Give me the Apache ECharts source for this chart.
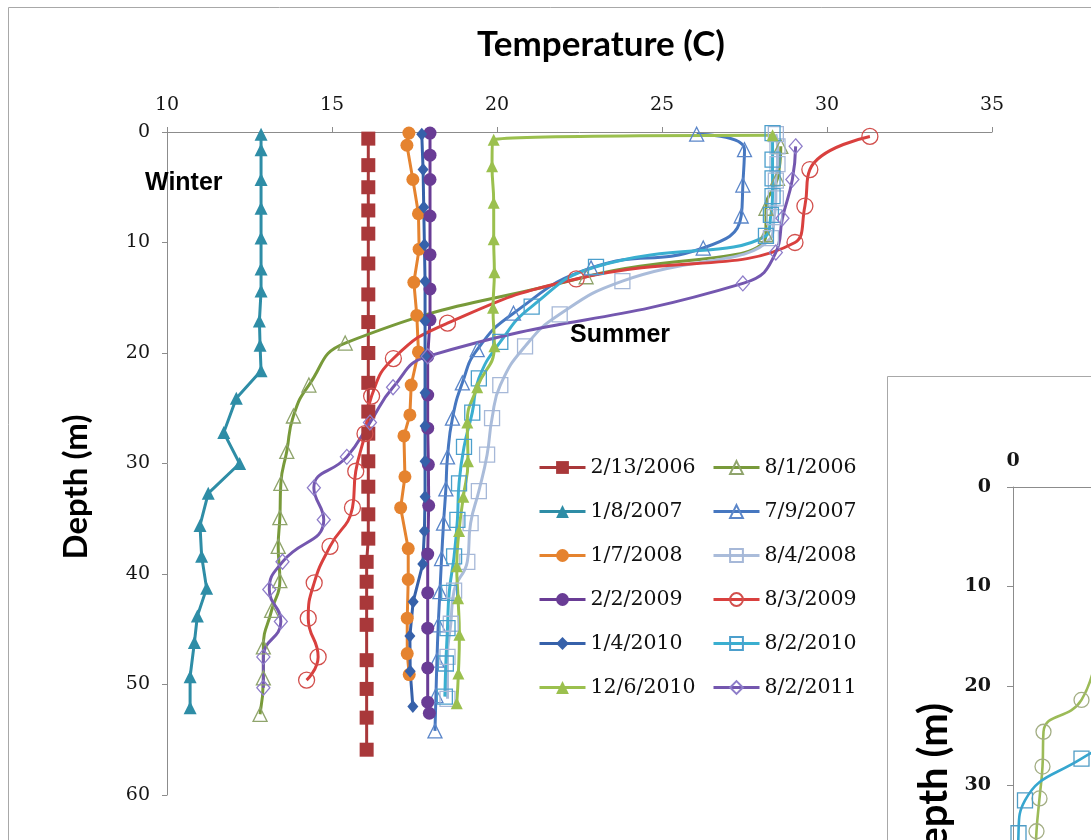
<!DOCTYPE html>
<html>
<head>
<meta charset="utf-8">
<script src="https://cdn.jsdelivr.net/npm/echarts@6/dist/echarts.min.js"></script>
<style>
  html, body { margin: 0; padding: 0; background: #fff; }
  #chart { width: 1091px; height: 840px; }
</style>
</head>
<body>
<div id="chart"></div>
<script>
// ---- Temperature profiles: temperature (C) at each depth (m) ----
const winterDates = ['2/13/2006', '1/8/2007', '1/7/2008', '2/2/2009', '1/4/2010', '12/6/2010'];
const summerDates = ['8/1/2006', '7/9/2007', '8/4/2008', '8/3/2009', '8/2/2010', '8/2/2011'];

const depth_2006_02_13 = [0.6, 3.0, 5.0, 7.1, 9.2, 11.9, 14.7, 17.2, 20.0, 22.7, 25.3, 27.3, 29.8, 32.1, 34.6, 36.8, 38.9, 40.7, 42.6, 44.6, 47.8, 50.4, 53.0, 55.9];
const temp_2006_02_13  = [16.1, 16.1, 16.1, 16.1, 16.1, 16.1, 16.1, 16.1, 16.1, 16.1, 16.1, 16.1, 16.1, 16.1, 16.1, 16.1, 16.05, 16.05, 16.05, 16.05, 16.05, 16.05, 16.05, 16.05];

const depth_2006_08_01 = [1.3, 4.2, 6.9, 9.3, 13.1, 19.1, 22.9, 25.7, 28.9, 31.8, 34.9, 37.5, 40.6, 43.3, 46.6, 49.4, 52.7];
const temp_2006_08_01  = [28.6, 28.5, 28.15, 28.15, 22.7, 15.4, 14.3, 13.83, 13.63, 13.45, 13.42, 13.37, 13.42, 13.17, 12.92, 12.92, 12.82];

const depth_2007_01_08 = [0.2, 1.6, 4.3, 6.9, 9.6, 12.4, 14.4, 17.1, 19.3, 21.6, 24.1, 27.2, 30.0, 32.7, 35.6, 38.4, 41.3, 43.8, 46.2, 49.3, 52.1];
const temp_2007_01_08  = [12.85, 12.85, 12.85, 12.85, 12.85, 12.85, 12.85, 12.8, 12.82, 12.85, 12.1, 11.72, 12.2, 11.25, 11.0, 11.05, 11.2, 10.92, 10.83, 10.7, 10.7];

const depth_2007_07_09 = [0.2, 1.6, 4.8, 7.6, 10.5, 12.3, 16.4, 19.7, 22.7, 25.9, 29.4, 32.3, 35.4, 38.6, 41.6, 44.6, 47.8, 51.0, 54.2];
const temp_2007_07_09  = [26.05, 27.5, 27.45, 27.4, 26.25, 22.85, 20.5, 19.4, 18.95, 18.65, 18.5, 18.45, 18.38, 18.32, 18.27, 18.22, 18.18, 18.15, 18.12];

const depth_2008_01_07 = [0.1, 1.2, 4.3, 7.4, 10.6, 13.6, 16.6, 19.9, 22.9, 25.6, 27.5, 31.2, 34.0, 37.7, 40.5, 44.0, 47.2, 49.1];
const temp_2008_01_07  = [17.33, 17.27, 17.45, 17.62, 17.64, 17.48, 17.57, 17.62, 17.4, 17.36, 17.18, 17.21, 17.08, 17.31, 17.31, 17.28, 17.28, 17.34];

const depth_2008_08_04 = [0.2, 1.3, 2.9, 4.4, 6.0, 7.7, 9.6, 13.5, 16.5, 19.4, 22.9, 25.9, 29.2, 32.5, 35.4, 38.9, 41.5, 44.5, 47.5, 51.3];
const temp_2008_08_04  = [28.45, 28.5, 28.5, 28.45, 28.45, 28.4, 28.3, 23.8, 21.9, 20.85, 20.1, 19.85, 19.7, 19.45, 19.2, 19.1, 18.7, 18.6, 18.5, 18.5];

const depth_2009_02_02 = [0.1, 2.1, 4.3, 7.6, 11.1, 14.2, 17.0, 20.3, 23.8, 26.8, 30.1, 33.8, 38.2, 41.7, 44.9, 48.5, 51.6, 52.6];
const temp_2009_02_02  = [17.97, 17.97, 17.97, 17.97, 17.97, 17.97, 17.97, 17.9, 17.9, 17.9, 17.92, 17.93, 17.9, 17.9, 17.9, 17.9, 17.9, 17.95];

const depth_2009_08_03 = [0.4, 3.4, 6.7, 10.0, 13.3, 17.3, 20.5, 23.9, 27.3, 30.7, 34.0, 37.5, 40.8, 44.0, 47.5, 49.6];
const temp_2009_08_03  = [31.3, 29.48, 29.33, 29.03, 22.4, 18.5, 16.86, 16.2, 16.0, 15.72, 15.62, 14.94, 14.46, 14.28, 14.58, 14.23];

const depth_2010_01_04 = [0.2, 3.4, 6.8, 10.2, 13.5, 17.1, 20.3, 23.6, 26.6, 29.8, 33.0, 36.1, 39.1, 42.5, 45.6, 48.8, 52.0];
const temp_2010_01_04  = [17.72, 17.76, 17.78, 17.8, 17.82, 17.82, 17.82, 17.82, 17.82, 17.82, 17.82, 17.8, 17.75, 17.46, 17.36, 17.37, 17.45];

const depth_2010_08_02 = [0.1, 2.5, 4.2, 5.8, 7.5, 9.4, 12.2, 15.8, 19.0, 22.3, 25.4, 28.5, 31.8, 35.1, 38.4, 41.7, 44.9, 48.1, 51.1];
const temp_2010_08_02  = [28.35, 28.35, 28.35, 28.35, 28.3, 28.15, 23.0, 21.05, 20.1, 19.45, 19.25, 19.0, 18.85, 18.8, 18.7, 18.55, 18.5, 18.45, 18.42];

const depth_2010_12_06 = [0.3, 0.7, 3.1, 6.4, 9.7, 12.7, 15.9, 19.4, 23.1, 26.3, 29.8, 33.0, 36.1, 39.3, 42.2, 45.5, 49.0, 51.7];
const temp_2010_12_06  = [28.35, 19.9, 19.85, 19.9, 19.9, 19.92, 19.88, 19.92, 19.4, 19.1, 19.12, 18.98, 18.85, 18.78, 18.82, 18.86, 18.83, 18.78];

const depth_2011_08_02 = [1.3, 4.3, 7.8, 10.9, 13.7, 20.3, 23.1, 26.3, 29.4, 32.2, 35.1, 38.9, 41.4, 44.3, 47.5, 50.3];
const temp_2011_08_02  = [29.05, 28.95, 28.65, 28.45, 27.45, 17.9, 16.85, 16.15, 15.45, 14.45, 14.75, 13.5, 13.1, 13.45, 12.92, 12.92];

// ---- Second (partly shown) profile panel ----
const insetCircleDepth = [15.5, 21.4, 24.6, 28.1, 31.3, 34.6, 37.9];
const insetCircleValue = [1.7, 1.37, 0.61, 0.59, 0.53, 0.47, 0.45];
const insetSquareDepth = [24.5, 27.3, 31.5, 34.8, 38.2];
const insetSquareValue = [2.5, 1.37, 0.24, 0.11, 0.1];

const xTicks = { min: 10, max: 35, step: 5 };
const yTicks = { min: 0, max: 60, step: 10 };

// pair temperatures with depths -> [x, y]
function pairs(temps, depths) {
  return temps.map((t, i) => [t, depths[i]]);
}

// build one profile line; open markers are drawn as outlines
function profile(name, temps, depths, st, axisIndex) {
  const open = !!st.open;
  return {
    name: name,
    type: 'line',
    xAxisIndex: axisIndex || 0,
    yAxisIndex: axisIndex || 0,
    data: pairs(temps, depths),
    smooth: st.smooth ? 0.5 : false,
    symbol: st.symbol,
    symbolSize: st.size,
    showAllSymbol: true,
    lineStyle: { color: st.color, width: st.width || 3 },
    itemStyle: open
      ? { color: 'rgba(255,255,255,0)', borderColor: st.marker || st.color, borderWidth: 1.3 }
      : { color: st.color, borderWidth: 0 },
    emphasis: { disabled: true },
    z: 2
  };
}

const styles = {
  '2/13/2006': { color: '#A9383A', symbol: 'rect', size: 14 },
  '8/1/2006':  { color: '#789A3A', marker: '#8FA46C', symbol: 'triangle', size: 14, open: true, smooth: true },
  '1/8/2007':  { color: '#2E8DA6', symbol: 'triangle', size: [13, 13] },
  '7/9/2007':  { color: '#4677C0', marker: '#5B86C9', symbol: 'triangle', size: 14, open: true, smooth: true },
  '1/7/2008':  { color: '#E5832F', symbol: 'circle', size: 13 },
  '8/4/2008':  { color: '#AABCDA', marker: '#A6B8D8', symbol: 'rect', size: 15, open: true, smooth: true },
  '2/2/2009':  { color: '#693C95', symbol: 'circle', size: 13 },
  '8/3/2009':  { color: '#D9403E', marker: '#D24F4C', symbol: 'circle', size: 16, open: true, smooth: true },
  '1/4/2010':  { color: '#3661AA', symbol: 'diamond', size: [11, 13] },
  '8/2/2010':  { color: '#3AAFD0', marker: '#4C9FCC', symbol: 'rect', size: 15, open: true, smooth: true },
  '12/6/2010': { color: '#9BC04E', symbol: 'triangle', size: 12, smooth: true },
  '8/2/2011':  { color: '#7457AF', marker: '#8E7DC9', symbol: 'diamond', size: [13, 15], open: true, smooth: true }
};

// chronological drawing order
const series = [
  profile('2/13/2006', temp_2006_02_13, depth_2006_02_13, styles['2/13/2006']),
  profile('8/1/2006',  temp_2006_08_01, depth_2006_08_01, styles['8/1/2006']),
  profile('1/8/2007',  temp_2007_01_08, depth_2007_01_08, styles['1/8/2007']),
  profile('7/9/2007',  temp_2007_07_09, depth_2007_07_09, styles['7/9/2007']),
  profile('1/7/2008',  temp_2008_01_07, depth_2008_01_07, styles['1/7/2008']),
  profile('8/4/2008',  temp_2008_08_04, depth_2008_08_04, styles['8/4/2008']),
  profile('2/2/2009',  temp_2009_02_02, depth_2009_02_02, styles['2/2/2009']),
  profile('8/3/2009',  temp_2009_08_03, depth_2009_08_03, styles['8/3/2009']),
  profile('1/4/2010',  temp_2010_01_04, depth_2010_01_04, styles['1/4/2010']),
  profile('8/2/2010',  temp_2010_08_02, depth_2010_08_02, styles['8/2/2010']),
  profile('12/6/2010', temp_2010_12_06, depth_2010_12_06, styles['12/6/2010']),
  profile('8/2/2011',  temp_2011_08_02, depth_2011_08_02, styles['8/2/2011']),
  profile('insetCircles', insetCircleValue, insetCircleDepth,
    { color: '#9CBB58', marker: '#A3AE84', symbol: 'circle', size: 15, open: true, smooth: true, width: 2.6 }, 1),
  profile('insetSquares', insetSquareValue, insetSquareDepth,
    { color: '#36A6CF', marker: '#4E9CC5', symbol: 'rect', size: 15, open: true, smooth: true, width: 2.6 }, 1)
];

const axisGray = '#8C8C8C';
const tickFont = { fontFamily: 'DejaVu Serif', fontSize: 19, color: '#151515' };

const legendBase = {
  orient: 'vertical',
  top: 457,
  padding: 0,
  itemWidth: 46,
  itemHeight: 16,
  itemGap: 23,
  selectedMode: false,
  lineStyle: { width: 3 },
  textStyle: { fontFamily: 'DejaVu Serif', fontSize: 20.5, color: '#111' }
};

// second panel: the plot area runs off the right and bottom edges
const insetLeft = 1013, insetTop = 487;
const insetXMax = (1091 - insetLeft) / 50;      // 50 px per unit
const insetYMax = (840 - insetTop) / 9.95;      // 9.95 px per metre

const option = {
  animation: false,
  backgroundColor: '#fff',
  grid: [
    { left: 167, top: 132, width: 825, height: 663 },
    { left: insetLeft, top: insetTop, right: 0, bottom: 0 }
  ],
  xAxis: [
    {
      gridIndex: 0, type: 'value', position: 'top',
      min: xTicks.min, max: xTicks.max, interval: xTicks.step,
      axisLine: { show: true, onZero: false, lineStyle: { color: axisGray, width: 1 } },
      axisTick: { show: true, length: 5, lineStyle: { color: axisGray } },
      splitLine: { show: false },
      axisLabel: Object.assign({ margin: 17 }, tickFont)
    },
    {
      gridIndex: 1, type: 'value', position: 'top',
      min: 0, max: insetXMax, interval: 2,
      axisLine: { show: true, onZero: false, lineStyle: { color: axisGray, width: 1 } },
      axisTick: { show: false },
      splitLine: { show: false },
      axisLabel: Object.assign({ margin: 16, fontWeight: 'bold', showMaxLabel: false }, tickFont)
    }
  ],
  yAxis: [
    {
      gridIndex: 0, type: 'value', inverse: true,
      min: yTicks.min, max: yTicks.max, interval: yTicks.step,
      axisLine: { show: true, onZero: false, lineStyle: { color: axisGray, width: 1 } },
      axisTick: { show: true, length: 5, lineStyle: { color: axisGray } },
      splitLine: { show: false },
      axisLabel: Object.assign({ margin: 17 }, tickFont)
    },
    {
      gridIndex: 1, type: 'value', inverse: true,
      min: 0, max: insetYMax, interval: 10,
      axisLine: { show: true, onZero: false, lineStyle: { color: axisGray, width: 1 } },
      axisTick: { show: true, length: 6, lineStyle: { color: axisGray } },
      splitLine: { show: false },
      axisLabel: Object.assign({ margin: 22, fontWeight: 'bold', showMaxLabel: false }, tickFont)
    }
  ],
  legend: [
    Object.assign({ left: 538, data: winterDates }, legendBase),
    Object.assign({ left: 712, data: summerDates }, legendBase)
  ],
  graphic: [
    { type: 'rect', z: -10, shape: { x: 8.5, y: 7.5, width: 1200, height: 1000 },
      style: { fill: 'none', stroke: '#A8A8A8', lineWidth: 1 } },
    { type: 'rect', z: -5, shape: { x: 887.5, y: 376.5, width: 400, height: 600 },
      style: { fill: '#fff', stroke: '#A8A8A8', lineWidth: 1 } },
    { type: 'text', x: 601, y: 45, z: 10,
      style: { text: 'Temperature (C)', font: 'bold 35px Lato', fill: '#000', textAlign: 'center', textVerticalAlign: 'middle' } },
    { type: 'text', x: 76, y: 487, z: 10, rotation: Math.PI / 2,
      style: { text: 'Depth (m)', font: 'bold 33px Lato', fill: '#000', textAlign: 'center', textVerticalAlign: 'middle' } },
    { type: 'text', x: 145, y: 183, z: 10,
      style: { text: 'Winter', font: 'bold 25px "Liberation Sans"', fill: '#000', textAlign: 'left', textVerticalAlign: 'middle' } },
    { type: 'text', x: 570, y: 335, z: 10,
      style: { text: 'Summer', font: 'bold 25px "Liberation Sans"', fill: '#000', textAlign: 'left', textVerticalAlign: 'middle' } },
    { type: 'text', x: 934, y: 703, z: 10, rotation: Math.PI / 2,
      style: { text: 'Depth (m)', font: 'bold 40px Lato', fill: '#000', textAlign: 'right', textVerticalAlign: 'middle' } }
  ],
  series: series
};

const chart = echarts.init(document.getElementById('chart'), null, { renderer: 'canvas' });
chart.setOption(option);
</script>
</body>
</html>
